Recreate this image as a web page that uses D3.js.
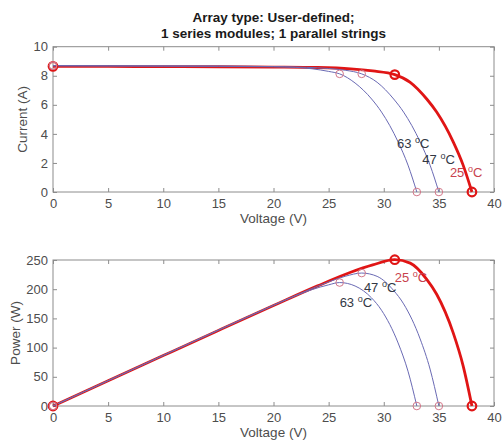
<!DOCTYPE html>
<html>
<head>
<meta charset="utf-8">
<script src="https://cdn.jsdelivr.net/npm/d3@7"></script>
<style>
  body { margin: 0; background: #fff; }
  svg text { font-family: "Liberation Sans", Arial, sans-serif; }
</style>
</head>
<body>
<svg id="chart" width="504" height="444"></svg>
<script>
// temperature labels
const temps = ['25', '47', '63'];

// I-V points, one pair of arrays per temperature
const voltage25 = [0, 5, 10, 15, 20, 24, 27, 29, 31, 32.4, 33.9, 34.8, 36.3, 37.2, 38];
const current25 = [8.65, 8.64, 8.63, 8.62, 8.6, 8.57, 8.48, 8.33, 8.08, 7.55, 6.4, 5.5, 3.45, 1.85, 0];
const voltage47 = [0, 5, 10, 15, 20, 23, 25, 26.5, 28, 29.4, 30.9, 31.8, 33.3, 34.2, 35];
const current47 = [8.68, 8.67, 8.66, 8.65, 8.62, 8.58, 8.5, 8.38, 8.13, 7.55, 6.4, 5.5, 3.45, 1.85, 0];
const voltage63 = [0, 5, 10, 15, 20, 22, 23.5, 25, 26, 27.4, 28.9, 29.8, 31.3, 32.2, 33];
const current63 = [8.7, 8.69, 8.68, 8.67, 8.63, 8.58, 8.48, 8.3, 8.13, 7.5, 6.4, 5.5, 3.45, 1.85, 0];

// axis ticks
const xTicks = [0, 5, 10, 15, 20, 25, 30, 35, 40];
const currentTicks = [0, 2, 4, 6, 8, 10];
const powerTicks = [0, 50, 100, 150, 200, 250];

// label anchors (data units) for the temperature texts
const ivLabelPos = { '25': [36, 1.0], '47': [33.5, 1.9], '63': [31.2, 3.0] };
const pvLabelPos = { '25': [31, 213], '47': [28.2, 195], '63': [26, 170] };

const series = [
  { t: '25', v: voltage25, i: current25 },
  { t: '47', v: voltage47, i: current47 },
  { t: '63', v: voltage63, i: current63 },
];
// power = V * I for every read point
series.forEach(s => { s.p = s.v.map((v, k) => v * s.i[k]); });

const svg = d3.select('#chart');
const left = 53, right = 494;
const x = d3.scaleLinear().domain([0, 40]).range([left, right]);

// Title
const title = svg.append('text')
  .attr('text-anchor', 'middle')
  .style('font-weight', 'bold')
  .style('font-size', '13.5px')
  .attr('fill', '#1a1a1a');
title.append('tspan').attr('x', (left + right) / 2).attr('y', 22).text('Array type: User-defined;');
title.append('tspan').attr('x', (left + right) / 2).attr('y', 38).text('1 series modules; 1 parallel strings');

function drawPanel(cfg) {
  const y = d3.scaleLinear().domain(cfg.domain).range([cfg.bottom, cfg.top]);
  const g = svg.append('g');

  // box
  g.append('rect')
    .attr('x', left).attr('y', cfg.top)
    .attr('width', right - left).attr('height', cfg.bottom - cfg.top)
    .attr('fill', 'none').attr('stroke', '#8c8c8c').attr('stroke-width', 1);

  const fmt = d3.format('d');
  const axes = [
    { a: d3.axisBottom(x).tickValues(xTicks).tickFormat(fmt).tickPadding(7), tr: `translate(0,${cfg.bottom})` },
    { a: d3.axisTop(x).tickValues(xTicks).tickFormat(''), tr: `translate(0,${cfg.top})` },
    { a: d3.axisLeft(y).tickValues(cfg.ticks).tickFormat(fmt).tickPadding(5), tr: `translate(${left},0)` },
    { a: d3.axisRight(y).tickValues(cfg.ticks).tickFormat(''), tr: `translate(${right},0)` },
  ];
  axes.forEach(ax => {
    const ag = g.append('g')
      .attr('transform', ax.tr)
      .call(ax.a.tickSizeInner(-4).tickSizeOuter(0));
    ag.select('.domain').remove();
    ag.selectAll('line').attr('stroke', '#8c8c8c');
    ag.selectAll('text').attr('fill', '#4d4d4d').style('font-size', '13px');
  });

  // axis labels
  g.append('text')
    .attr('x', (left + right) / 2).attr('y', cfg.bottom + 31)
    .attr('text-anchor', 'middle').style('font-size', '13.5px').attr('fill', '#4d4d4d')
    .text('Voltage (V)');
  g.append('text')
    .attr('transform', `translate(${cfg.ylabelX},${(cfg.top + cfg.bottom) / 2}) rotate(-90)`)
    .attr('text-anchor', 'middle').style('font-size', '13.5px').attr('fill', '#4d4d4d')
    .text(cfg.ylabel);

  const line = d3.line()
    .x(d => x(d[0])).y(d => y(d[1]))
    .curve(d3.curveMonotoneX);

  // curves: 25 °C drawn first (thick red), hotter ones thin on top
  series.forEach(s => {
    const pts = s.v.map((v, k) => [v, s[cfg.key][k]]);
    const hot = s.t !== '25';
    g.append('path')
      .datum(pts)
      .attr('d', line)
      .attr('fill', 'none')
      .attr('stroke', hot ? '#6a6ab4' : '#e01515')
      .attr('stroke-width', hot ? 1 : 2.8);
  });

  // markers at short circuit, max power point and open circuit
  series.forEach(s => {
    const hot = s.t !== '25';
    const mpp = d3.maxIndex(s.p);
    const idx = [0, mpp, s.v.length - 1];
    g.selectAll(null)
      .data(idx)
      .join('circle')
      .attr('cx', k => x(s.v[k]))
      .attr('cy', k => y(s[cfg.key][k]))
      .attr('r', hot ? 3.8 : 4.3)
      .attr('fill', 'none')
      .attr('stroke', hot ? '#d2788a' : '#e01515')
      .attr('stroke-width', hot ? 1 : 2.2);
  });

  // temperature labels
  temps.forEach(t => {
    const pos = cfg.labels[t];
    const txt = g.append('text')
      .attr('x', x(pos[0])).attr('y', y(pos[1]))
      .style('font-size', '13px')
      .attr('fill', t === '25' ? '#c8424e' : '#333844');
    txt.append('tspan').text(t + ' ');
    txt.append('tspan').attr('dy', -5).style('font-size', '9px').text('o');
    txt.append('tspan').attr('dy', 5).text('C');
  });
}

drawPanel({
  top: 46.7, bottom: 192, domain: [0, 10], ticks: currentTicks,
  key: 'i', ylabel: 'Current (A)', ylabelX: 27, labels: ivLabelPos,
});
drawPanel({
  top: 260, bottom: 406, domain: [0, 250], ticks: powerTicks,
  key: 'p', ylabel: 'Power (W)', ylabelX: 20, labels: pvLabelPos,
});
</script>
</body>
</html>
